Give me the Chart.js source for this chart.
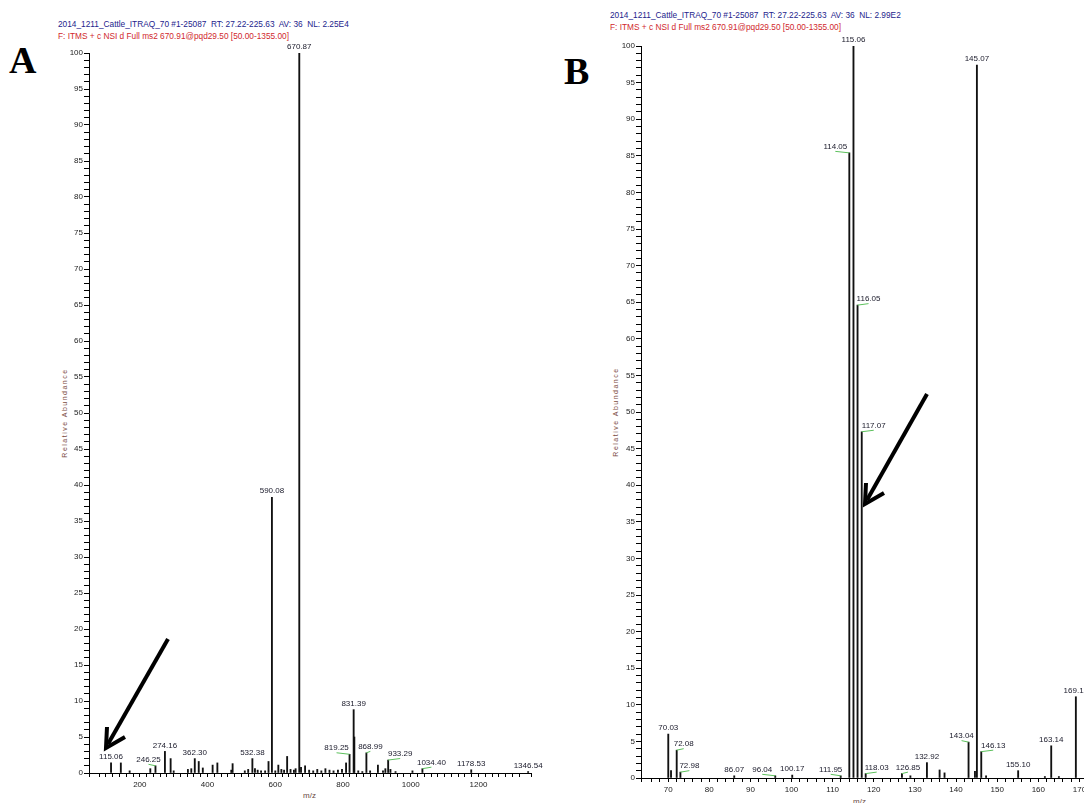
<!DOCTYPE html>
<html>
<head>
<meta charset="utf-8">
<script src="https://cdn.jsdelivr.net/npm/chart.js@4.4.1/dist/chart.umd.min.js"></script>
<style>
body { margin:0; width:1084px; height:803px; overflow:hidden; background:#fff; position:relative; font-family:"Liberation Sans", Arial, sans-serif; }
.hdr { position:absolute; font-size:8.3px; line-height:10px; white-space:pre; }
.blue { color:#23238c; }
.red { color:#d0282c; }
.panel { position:absolute; font-family:"Liberation Serif", "Times New Roman", serif; font-weight:bold; font-size:38px; line-height:38px; }
.ytitle { position:absolute; width:120px; text-align:center; font-size:7px; line-height:8px; color:#7a4a40; letter-spacing:1.5px; white-space:nowrap; transform:rotate(-90deg); }
.xtitle { position:absolute; font-size:8px; color:#6a4a40; }
canvas { position:absolute; }
svg { position:absolute; left:0; top:0; }
</style>
</head>
<body>
<div class="hdr blue" style="left:58px; top:19px;">2014_1211_Cattle_ITRAQ_70 #1-25087  RT: 27.22-225.63  AV: 36  NL: 2.25E4</div>
<div class="hdr red" style="left:58px; top:31px;">F: ITMS + c NSI d Full ms2 670.91@pqd29.50 [50.00-1355.00]</div>
<div class="hdr blue" style="left:610px; top:10px;">2014_1211_Cattle_ITRAQ_70 #1-25087  RT: 27.22-225.63  AV: 36  NL: 2.99E2</div>
<div class="hdr red" style="left:610px; top:22px;">F: ITMS + c NSI d Full ms2 670.91@pqd29.50 [50.00-1355.00]</div>
<div class="panel" style="left:9px; top:41px;">A</div>
<div class="panel" style="left:564px; top:52px;">B</div>
<div class="ytitle" style="left:5px; top:409px;">Relative Abundance</div>
<div class="ytitle" style="left:556px; top:408px;">Relative Abundance</div>
<div class="xtitle" style="left:303px; top:791px;">m/z</div>
<div class="xtitle" style="left:853px; top:797px;">m/z</div>

<canvas id="chartA" width="510" height="773" style="left:40px; top:30px;"></canvas>
<canvas id="chartB" width="530" height="773" style="left:590px; top:30px;"></canvas>

<svg width="1084" height="803">
  <g stroke="#000" stroke-width="4" fill="none" stroke-linejoin="miter">
    <line x1="168" y1="639" x2="108" y2="744"/>
    <polyline points="107,727 106,748 125,737"/>
    <line x1="927" y1="394" x2="867" y2="500"/>
    <polyline points="866,483 865,504 884,493"/>
  </g>
</svg>

<script>
// panel A - full scan
const peaksA = [115.06, 144, 170, 231, 246.25, 274.16, 291, 300, 342, 352, 362.30, 374, 386, 415, 429, 470, 474,
    510, 520, 532.38, 540, 548, 558, 570, 580, 590.08, 600, 609, 618, 626, 635, 645, 655, 660, 670.87, 676, 688,
    700, 712, 724, 736, 748, 760, 772, 785, 797, 809, 819.25, 831.39, 833.4, 845, 857, 868.99, 880, 903, 918, 925,
    933.29, 940, 955, 1005, 1034.40, 1178.53, 1346.54];
const intensA = [1.4, 1.4, 0.3, 0.6, 1.0, 3.0, 2.0, 0.3, 0.5, 0.6, 2.0, 1.6, 0.7, 1.1, 1.4, 0.4, 1.3,
    0.3, 0.5, 2.0, 0.6, 0.4, 0.3, 0.3, 1.6, 38.3, 0.3, 1.1, 0.5, 0.4, 2.3, 0.5, 0.4, 0.6, 100, 0.8, 1.0,
    0.4, 0.3, 0.5, 0.3, 0.6, 0.4, 0.3, 0.4, 0.5, 1.4, 2.6, 8.8, 5.0, 0.3, 0.2, 2.8, 0.3, 1.1, 0.3, 0.6,
    1.8, 0.5, 0.2, 0.3, 0.6, 0.45, 0.2];
const labeledA = [115.06, 246.25, 274.16, 362.30, 532.38, 590.08, 670.87, 819.25, 831.39, 868.99, 933.29, 1034.40, 1178.53, 1346.54];

// panel B - reporter ion region
const peaksB = [70.03, 70.7, 72.08, 72.98, 86.07, 96.04, 100.17, 111.95, 114.05, 115.06, 116.05, 117.07, 118.03,
    126.85, 128.9, 132.92, 136.0, 137.2, 143.04, 144.6, 145.07, 146.13, 147.3, 155.10, 161.6, 163.14, 165, 169.13];
const intensB = [6.0, 1.0, 3.8, 0.8, 0.3, 0.3, 0.4, 0.3, 85.4, 100, 64.6, 47.3, 0.6,
    0.6, 0.3, 2.1, 1.1, 0.7, 4.9, 0.9, 97.4, 3.6, 0.3, 1.0, 0.2, 4.4, 0.2, 11.1];
const labeledB = [70.03, 72.08, 72.98, 86.07, 96.04, 100.17, 111.95, 114.05, 115.06, 116.05, 117.07, 118.03,
    126.85, 132.92, 143.04, 145.07, 146.13, 155.10, 163.14, 169.13];

// sideways shift (px) of labels that sit off their peak, joined by a green line
const labelShift = {
    '246.25': -7, '819.25': -13, '868.99': 4, '933.29': 12, '1034.40': 9,
    '114.05': -14, '116.05': 11, '117.07': 12, '72.08': 7, '72.98': 9, '96.04': -13,
    '111.95': -10, '118.03': 11, '126.85': 6, '143.04': -7, '146.13': 12
};

const FONT = '"Liberation Sans", Arial, sans-serif';

const peakLabels = {
    id: 'peakLabels',
    afterDatasetsDraw(chart, args, opts) {
        const ctx = chart.ctx;
        const meta = chart.getDatasetMeta(0);
        const data = chart.data.datasets[0].data;
        ctx.save();
        ctx.font = '8px ' + FONT;
        ctx.textAlign = 'center';
        ctx.textBaseline = 'bottom';
        data.forEach((pt, i) => {
            if (!opts.labeled.includes(pt.x)) return;
            const el = meta.data[i];
            const txt = pt.x.toFixed(2);
            const dx = labelShift[txt] || 0;
            if (dx) {
                ctx.strokeStyle = '#5cc05c';
                ctx.lineWidth = 1;
                ctx.beginPath();
                ctx.moveTo(el.x + dx, el.y - 1.5);
                ctx.lineTo(el.x, el.y);
                ctx.stroke();
            }
            ctx.fillStyle = '#202030';
            ctx.fillText(txt, el.x + dx, el.y - 2);
        });
        ctx.restore();
    }
};

function makeChart(id, peaks, intens, labeled, xr, pad, yWidth, xHeight) {
    const ctx = document.getElementById(id).getContext('2d');
    return new Chart(ctx, {
        type: 'bar',
        data: {
            datasets: [{
                data: peaks.map((mz, i) => ({ x: mz, y: intens[i] })),
                backgroundColor: '#111',
                borderWidth: 0,
                barThickness: 1.2
            }]
        },
        options: {
            responsive: false,
            animation: false,
            layout: { padding: pad },
            plugins: {
                legend: { display: false },
                tooltip: { enabled: false },
                peakLabels: { labeled: labeled }
            },
            scales: {
                x: {
                    type: 'linear',
                    min: xr.min,
                    max: xr.max,
                    offset: false,
                    grid: { offset: false, drawOnChartArea: false, drawTicks: true, tickLength: 4, color: '#000' },
                    border: { color: '#000', width: 1 },
                    ticks: {
                        stepSize: xr.step,
                        autoSkip: false,
                        maxRotation: 0,
                        padding: 3,
                        color: '#222',
                        font: { size: 8, family: FONT },
                        callback: v => (v % xr.major === 0 ? v : '')
                    },
                    afterFit: s => { s.height = xHeight; }
                },
                y: {
                    min: 0,
                    max: 100,
                    grid: { drawOnChartArea: false, drawTicks: true, tickLength: 5, color: '#000' },
                    border: { color: '#000', width: 1 },
                    ticks: {
                        stepSize: 1,
                        autoSkip: false,
                        padding: 1,
                        color: '#222',
                        font: { size: 8, family: FONT },
                        callback: v => (v % 5 === 0 ? v : '')
                    },
                    afterFit: s => { s.width = yWidth; }
                }
            }
        },
        plugins: [peakLabels]
    });
}

makeChart('chartA', peaksA, intensA, labeledA,
    { min: 50, max: 1355, step: 20, major: 200 },
    { top: 23, right: 19, left: 20, bottom: 0 }, 29, 30);
makeChart('chartB', peaksB, intensB, labeledB,
    { min: 63.4, max: 175, step: 2, major: 10 },
    { top: 16, right: 20, left: 20, bottom: 0 }, 31, 25);
</script>
</body>
</html>
